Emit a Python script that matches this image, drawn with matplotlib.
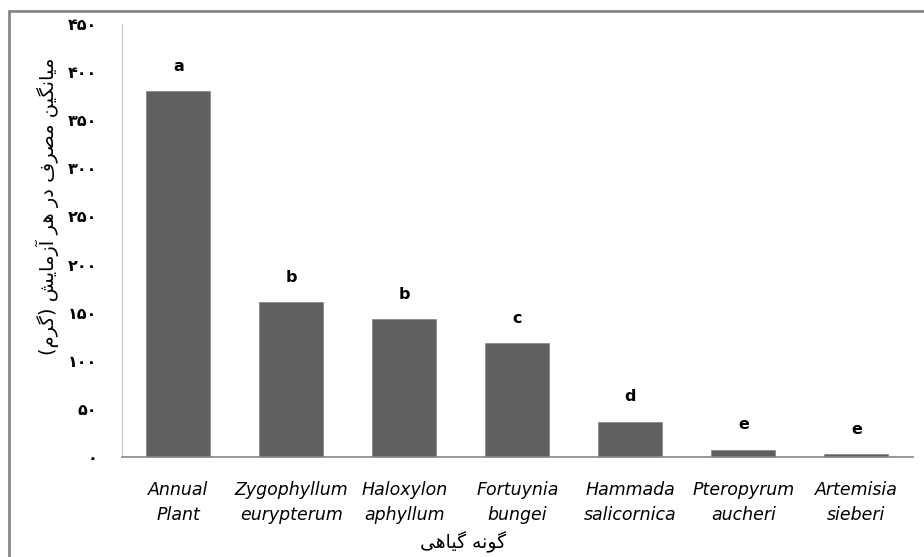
import matplotlib
matplotlib.use("Agg")
import matplotlib.pyplot as plt
from matplotlib.patches import Rectangle

species = ["Annual\nPlant", "Zygophyllum\neurypterum", "Haloxylon\naphyllum",
           "Fortuynia\nbungei", "Hammada\nsalicornica", "Pteropyrum\naucheri",
           "Artemisia\nsieberi"]
mean_use = [380, 161, 143, 118, 36.5, 7.3, 3.1]
groups = ["a", "b", "b", "c", "d", "e", "e"]
yticks = [0, 50, 100, 150, 200, 250, 300, 350, 400, 450]

ylabel_fa = "میانگین مصرف در هر آزمایش (گرم)"
xlabel_fa = "گونه گیاهی"


# matplotlib has no arabic shaping, so pick the presentation forms by hand
DUAL = {'م': (0xFEE1, 0xFEE2, 0xFEE3, 0xFEE4), 'ن': (0xFEE5, 0xFEE6, 0xFEE7, 0xFEE8),
        'ه': (0xFEE9, 0xFEEA, 0xFEEB, 0xFEEC), 'ص': (0xFEB9, 0xFEBA, 0xFEBB, 0xFEBC),
        'ف': (0xFED1, 0xFED2, 0xFED3, 0xFED4), 'ش': (0xFEB5, 0xFEB6, 0xFEB7, 0xFEB8),
        'ی': (0xFBFC, 0xFBFD, 0xFBFE, 0xFBFF), 'گ': (0xFB92, 0xFB93, 0xFB94, 0xFB95)}
RIGHT = {'ا': (0xFE8D, 0xFE8E), 'آ': (0xFE81, 0xFE82), 'د': (0xFEA9, 0xFEAA),
         'ر': (0xFEAD, 0xFEAE), 'ز': (0xFEAF, 0xFEB0), 'و': (0xFEED, 0xFEEE)}


def shape(s):
    out = []
    for i, ch in enumerate(s):
        prev = s[i - 1] if i > 0 else ""
        nxt = s[i + 1] if i < len(s) - 1 else ""
        join_prev = prev in DUAL and (ch in DUAL or ch in RIGHT)
        join_next = ch in DUAL and (nxt in DUAL or nxt in RIGHT)
        if ch in DUAL:
            f = DUAL[ch]
            if join_prev and join_next:
                out.append(chr(f[3]))
            elif join_prev:
                out.append(chr(f[1]))
            elif join_next:
                out.append(chr(f[2]))
            else:
                out.append(chr(f[0]))
        elif ch in RIGHT:
            out.append(chr(RIGHT[ch][1] if join_prev else RIGHT[ch][0]))
        else:
            out.append(ch)
    vis = "".join(reversed(out))
    return vis.translate(str.maketrans("()", ")("))


def fa_digits(n):
    return str(n).translate(str.maketrans("0123456789", "۰۱۲۳۴۵۶۷۸۹"))


fig = plt.figure(figsize=(9.24, 5.57), dpi=100)
ax = fig.add_axes([0.132, 0.1795, 0.856, 0.7775])

x = range(len(species))
ax.bar(x, mean_use, width=0.566, color="#606060", edgecolor="#8a8a8a", linewidth=0.6)

for xi, v, g in zip(x, mean_use, groups):
    ax.annotate(g, (xi, v), xytext=(0, 18), textcoords="offset points",
                ha="center", va="center", fontsize=11.5, fontweight="bold",
                family="DejaVu Sans")

ax.set_xlim(-0.5, 6.5)
ax.set_ylim(0, 450)
ax.set_yticks(yticks)
ax.set_yticklabels([fa_digits(t) for t in yticks], fontsize=11.5, fontweight="bold",
                   family="DejaVu Sans")
ax.set_xticks(list(x))
ax.set_xticklabels(species, fontsize=12.5, style="italic",
                   family="Liberation Sans Narrow", linespacing=1.5)
ax.tick_params(axis="y", length=0, pad=18)
ax.tick_params(axis="x", length=0, pad=17)

for side in ["top", "right"]:
    ax.spines[side].set_visible(False)
ax.spines["left"].set_color("#c8c8c8")
ax.spines["bottom"].set_color("#868686")
ax.spines["bottom"].set_linewidth(1.2)

fig.text(0.051, 0.63, shape(ylabel_fa), rotation=90, ha="center", va="center",
         fontsize=14, family="DejaVu Sans")
fig.text(0.501, 0.027, shape(xlabel_fa), ha="center", va="center",
         fontsize=13.5, family="DejaVu Sans")

# chart frame, runs off the right and bottom edge like the original
fig.patches.append(Rectangle((9 / 924, -0.1), 1.2, 1.1 - 11 / 557,
                             transform=fig.transFigure, fill=False,
                             edgecolor="#888888", linewidth=2))

fig.savefig("out.png", dpi=100)
